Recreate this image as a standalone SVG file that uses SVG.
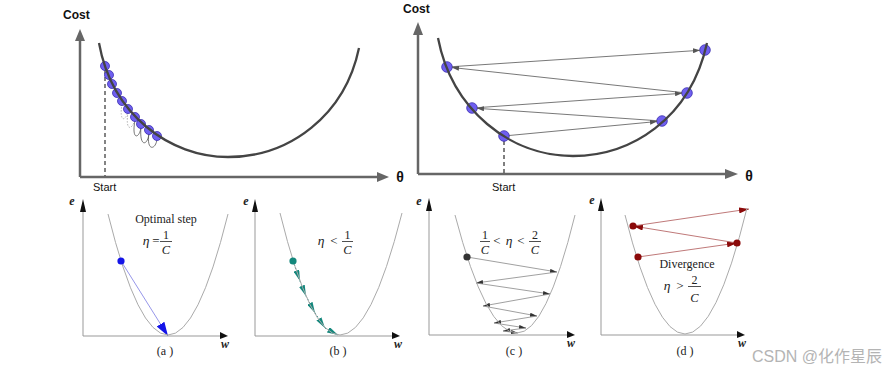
<svg xmlns="http://www.w3.org/2000/svg" width="884" height="371" viewBox="0 0 884 371">
<style>
.bg{fill:#fff}
.lbl{font-family:"Liberation Sans",Arial,sans-serif;fill:#111}
.bold{font-weight:bold}
.ser{font-family:"Liberation Serif","Times New Roman",serif;fill:#222}
.it{font-style:italic}
.ax{stroke:#666;stroke-width:2.5;fill:none}
.axh{fill:#666}
.curve{stroke:#444;stroke-width:2.3;fill:none}
.dot{fill:#6f5ff0;stroke:#3b2fb0;stroke-width:0.8}
.arr{stroke:#555;stroke-width:0.8;fill:none}
.bax{stroke:#999;stroke-width:1;fill:none}
.bah{fill:#111}
.par{stroke:#aaa;stroke-width:1;fill:none}
.frac{stroke:#222;stroke-width:0.8}
.ew{font-family:"Liberation Serif","Times New Roman",serif;font-style:italic;font-weight:bold;fill:#222;font-size:12px}
</style>
<defs>
<marker id="mGray" markerUnits="userSpaceOnUse" markerWidth="7" markerHeight="5" refX="7" refY="2.5" orient="auto"><path d="M0,0 L7,2.5 L0,5 z" fill="#555"/></marker>
<marker id="mBlue" markerUnits="userSpaceOnUse" markerWidth="14" markerHeight="9" refX="14" refY="4.5" orient="auto"><path d="M0,0 L14,4.5 L0,9 z" fill="#1414e8"/></marker>
<marker id="mTeal" markerUnits="userSpaceOnUse" markerWidth="11" markerHeight="6" refX="11" refY="3" orient="auto"><path d="M0,0 L11,3 L0,6 z" fill="#13877c"/></marker>
<marker id="mDark" markerUnits="userSpaceOnUse" markerWidth="7" markerHeight="4" refX="7" refY="2" orient="auto"><path d="M0,0 L7,2 L0,4 z" fill="#333"/></marker>
<marker id="mRed" markerUnits="userSpaceOnUse" markerWidth="10" markerHeight="6" refX="10" refY="3" orient="auto"><path d="M0,0 L10,3 L0,6 z" fill="#8b0a0a"/></marker>
</defs>
<rect class="bg" x="0" y="0" width="884" height="371"/>

<g id="panel-top-left">
  <text class="lbl bold" x="63" y="19" font-size="12">Cost</text>
  <line class="ax" x1="80" y1="177" x2="80" y2="40"/>
  <polygon class="axh" points="80,29 75,41 85,41"/>
  <line class="ax" x1="80" y1="177" x2="378" y2="177"/>
  <polygon class="axh" points="389,177 377,172 377,182"/>
  <text class="lbl bold" x="400" y="182" font-size="14" text-anchor="middle">θ</text>
  <line x1="105" y1="70" x2="105" y2="176" stroke="#333" stroke-width="1.2" stroke-dasharray="4,3"/>
  <text class="lbl" x="93" y="191" font-size="11">Start</text>
  <g id="loops" fill="none" stroke-width="0.8">
    <path d="M122,104 C119,122 125,122 128,112" stroke="#aaa" stroke-dasharray="1.5,1.5"/>
    <path d="M128,112 C125,132 132,130 135,120" stroke="#999" stroke-dasharray="1.5,1.5"/>
    <path d="M135,120 C131,142 140,138 141,127" stroke="#555"/>
    <path d="M141,127 C139,148 148,146 149,133" stroke="#555"/>
    <path d="M149,133 C146,152 156,150 157,139" stroke="#555"/>
  </g>
  <g id="dots-left">
    <circle class="dot" cx="105" cy="66" r="4.5"/>
    <circle class="dot" cx="109" cy="75" r="4.5"/>
    <circle class="dot" cx="112" cy="84" r="4.5"/>
    <circle class="dot" cx="117" cy="93" r="4.5"/>
    <circle class="dot" cx="122" cy="101" r="4.5"/>
    <circle class="dot" cx="128" cy="109" r="4.5"/>
    <circle class="dot" cx="135" cy="117" r="4.5"/>
    <circle class="dot" cx="141" cy="124" r="4.5"/>
    <circle class="dot" cx="149" cy="130" r="4.5"/>
    <circle class="dot" cx="157" cy="136" r="4.5"/>
  </g>
  <path class="curve" d="M99,43 C112,115 170,157 228,157 C290,157 345,115 359,48"/>
</g>

<g id="panel-top-right">
  <text class="lbl bold" x="403" y="13" font-size="12">Cost</text>
  <line class="ax" x1="418" y1="174" x2="418" y2="34"/>
  <polygon class="axh" points="418,22 413,35 423,35"/>
  <line class="ax" x1="418" y1="174" x2="726" y2="174"/>
  <polygon class="axh" points="738,174 725,169 725,179"/>
  <text class="lbl bold" x="749" y="181" font-size="14" text-anchor="middle">θ</text>
  <line x1="504" y1="141" x2="504" y2="173" stroke="#555" stroke-width="1.5" stroke-dasharray="4,3"/>
  <text class="lbl" x="492" y="191" font-size="11">Start</text>
  <g id="dots-right">
    <circle class="dot" cx="447" cy="67" r="5.3"/>
    <circle class="dot" cx="472" cy="108" r="5.3"/>
    <circle class="dot" cx="504" cy="136" r="5.3"/>
    <circle class="dot" cx="662" cy="121" r="5.3"/>
    <circle class="dot" cx="687" cy="93" r="5.3"/>
    <circle class="dot" cx="705" cy="50" r="5.3"/>
  </g>
  <path class="curve" d="M438,38 C452,110 510,156 573,156 C630,156 690,120 707,43"/>
</g>

<g id="connectors">
  <line class="arr" x1="509" y1="135.5" x2="657" y2="121.5" marker-end="url(#mGray)"/>
  <line class="arr" x1="657" y1="120.7" x2="477" y2="108.3" marker-end="url(#mGray)"/>
  <line class="arr" x1="477" y1="107.7" x2="682" y2="93.3" marker-end="url(#mGray)"/>
  <line class="arr" x1="682" y1="92.5" x2="452" y2="67.5" marker-end="url(#mGray)"/>
  <line class="arr" x1="452" y1="66.7" x2="700" y2="50.3" marker-end="url(#mGray)"/>

  <line x1="121" y1="261" x2="168" y2="336" stroke="#8a8ae6" stroke-width="0.9" marker-end="url(#mBlue)"/>

  <g stroke="#13877c" stroke-width="1" stroke-dasharray="1.5,2" fill="none">
    <line x1="293" y1="261" x2="300" y2="281" marker-end="url(#mTeal)"/>
    <line x1="300" y1="281" x2="306" y2="296" marker-end="url(#mTeal)"/>
    <line x1="306" y1="296" x2="315" y2="313" marker-end="url(#mTeal)"/>
    <line x1="315" y1="313" x2="325" y2="328" marker-end="url(#mTeal)"/>
    <line x1="325" y1="328" x2="338" y2="335" marker-end="url(#mTeal)"/>
  </g>

  <g stroke="#888" stroke-width="0.8" fill="none">
    <line x1="467" y1="257" x2="557" y2="272" marker-end="url(#mDark)"/>
    <line x1="557" y1="272" x2="476" y2="283" marker-end="url(#mDark)"/>
    <line x1="476" y1="283" x2="550" y2="294" marker-end="url(#mDark)"/>
    <line x1="550" y1="294" x2="483" y2="306" marker-end="url(#mDark)"/>
    <line x1="483" y1="306" x2="537" y2="316" marker-end="url(#mDark)"/>
    <line x1="537" y1="316" x2="494" y2="323" marker-end="url(#mDark)"/>
    <line x1="494" y1="323" x2="526" y2="328" marker-end="url(#mDark)"/>
    <line x1="526" y1="328" x2="503" y2="331" marker-end="url(#mDark)"/>
    <line x1="503" y1="331" x2="518" y2="333" marker-end="url(#mDark)"/>
  </g>

  <g stroke="#b86a6a" stroke-width="0.9" fill="none">
    <line x1="638" y1="257" x2="737" y2="243" marker-end="url(#mRed)"/>
    <line x1="737" y1="243" x2="633" y2="226" marker-end="url(#mRed)"/>
    <line x1="633" y1="226" x2="749" y2="209" marker-end="url(#mRed)"/>
  </g>
</g>

<g id="panel-a">
  <line class="bax" x1="83" y1="336" x2="83" y2="210"/>
  <polygon class="bah" points="83,199 80,212 86,212"/>
  <line class="bax" x1="83" y1="336" x2="221" y2="336"/>
  <polygon class="bah" points="228,336 220,332 220,339"/>
  <text class="ew" x="72" y="205" text-anchor="middle">e</text>
  <text class="ew" x="225" y="348" text-anchor="middle">w</text>
  <path class="par" d="M108,214 Q138,335 168,335 Q198,335 228,214"/>
  <circle cx="121" cy="261" r="3.6" fill="#1414e8"/>
  <text class="ser" x="166" y="223" font-size="12" text-anchor="middle">Optimal step</text>
  <text class="ser it" x="146" y="245" font-size="13.5" text-anchor="middle">η</text>
  <text class="ser" x="156" y="245" font-size="13" text-anchor="middle">=</text>
  <text class="ser" x="166" y="238.5" font-size="12" text-anchor="middle">1</text>
  <line class="frac" x1="160" y1="241.5" x2="172" y2="241.5"/>
  <text class="ser it" x="166" y="254" font-size="12.5" text-anchor="middle">C</text>
  <text class="ser" x="165" y="355" font-size="12" text-anchor="middle">(a )</text>
</g>

<g id="panel-b">
  <line class="bax" x1="255" y1="336" x2="255" y2="210"/>
  <polygon class="bah" points="255,199 252,212 258,212"/>
  <line class="bax" x1="255" y1="336" x2="393" y2="336"/>
  <polygon class="bah" points="400,336 392,332 392,339"/>
  <text class="ew" x="246" y="205" text-anchor="middle">e</text>
  <text class="ew" x="398" y="348" text-anchor="middle">w</text>
  <path class="par" d="M280,213 Q310,335 340,335 Q371,335 402,213"/>
  <circle cx="293" cy="261" r="3.6" fill="#13877c"/>
  <text class="ser it" x="321" y="245" font-size="13.5" text-anchor="middle">η</text>
  <text class="ser" x="334" y="245" font-size="13" text-anchor="middle">&lt;</text>
  <text class="ser" x="347.5" y="238.5" font-size="12" text-anchor="middle">1</text>
  <line class="frac" x1="342" y1="241.5" x2="353" y2="241.5"/>
  <text class="ser it" x="347.5" y="254" font-size="12.5" text-anchor="middle">C</text>
  <text class="ser" x="338" y="355" font-size="12" text-anchor="middle">(b )</text>
</g>

<g id="panel-c">
  <line class="bax" x1="429" y1="335" x2="429" y2="209"/>
  <polygon class="bah" points="429,198 426,211 432,211"/>
  <line class="bax" x1="429" y1="335" x2="568" y2="335"/>
  <polygon class="bah" points="575,335 567,331 567,338"/>
  <text class="ew" x="419" y="205" text-anchor="middle">e</text>
  <text class="ew" x="571" y="347" text-anchor="middle">w</text>
  <path class="par" d="M455,215 Q486,333 517,333 Q546,333 575,215"/>
  <circle cx="467" cy="257" r="3.6" fill="#333"/>
  <text class="ser" x="485" y="238.5" font-size="12" text-anchor="middle">1</text>
  <line class="frac" x1="480" y1="241.5" x2="490" y2="241.5"/>
  <text class="ser it" x="485" y="254" font-size="12.5" text-anchor="middle">C</text>
  <text class="ser" x="497" y="245" font-size="13" text-anchor="middle">&lt;</text>
  <text class="ser it" x="509" y="245" font-size="13.5" text-anchor="middle">η</text>
  <text class="ser" x="521" y="245" font-size="13" text-anchor="middle">&lt;</text>
  <text class="ser" x="535" y="238.5" font-size="12" text-anchor="middle">2</text>
  <line class="frac" x1="529" y1="241.5" x2="541" y2="241.5"/>
  <text class="ser it" x="535" y="254" font-size="12.5" text-anchor="middle">C</text>
  <text class="ser" x="514" y="355" font-size="12" text-anchor="middle">(c )</text>
</g>

<g id="panel-d">
  <line class="bax" x1="601" y1="335" x2="601" y2="209"/>
  <polygon class="bah" points="601,198 598,211 604,211"/>
  <line class="bax" x1="601" y1="335" x2="738" y2="335"/>
  <polygon class="bah" points="745,335 737,331 737,338"/>
  <text class="ew" x="592" y="204" text-anchor="middle">e</text>
  <text class="ew" x="742" y="347" text-anchor="middle">w</text>
  <path class="par" d="M625,215 Q655,334 685,334 Q716,334 747,208"/>
  <circle cx="638" cy="257" r="3.6" fill="#8b0a0a"/>
  <circle cx="737" cy="243" r="3.6" fill="#8b0a0a"/>
  <circle cx="633" cy="226" r="3.6" fill="#8b0a0a"/>
  <text class="ser" x="687" y="268" font-size="12" text-anchor="middle">Divergence</text>
  <text class="ser it" x="667" y="290" font-size="13.5" text-anchor="middle">η</text>
  <text class="ser" x="680" y="290" font-size="13" text-anchor="middle">&gt;</text>
  <text class="ser" x="694.5" y="283.5" font-size="12" text-anchor="middle">2</text>
  <line class="frac" x1="688" y1="286.5" x2="701" y2="286.5"/>
  <text class="ser it" x="694.5" y="302" font-size="12.5" text-anchor="middle">C</text>
  <text class="ser" x="685" y="355" font-size="12" text-anchor="middle">(d )</text>
</g>

<text x="752" y="362" font-size="16" fill="#b4b4b4" font-family="'Liberation Sans','Noto Sans CJK SC',sans-serif">CSDN @化作星辰</text>
</svg>
